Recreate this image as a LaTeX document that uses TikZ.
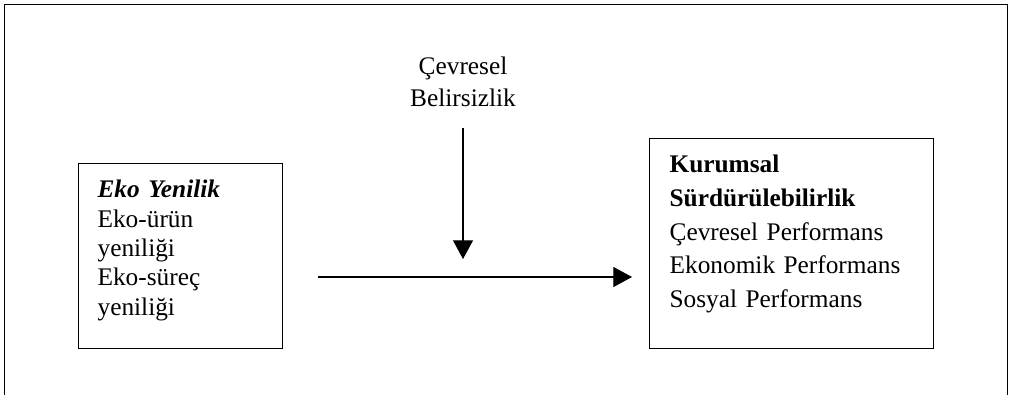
\documentclass[tikz,border=0pt]{standalone}
\usepackage{fontspec}
\setmainfont{Liberation Serif}
\usepackage{tikz}
\usetikzlibrary{arrows.meta,positioning,calc}

\begin{document}
\begin{tikzpicture}[
  x=0.75pt, y=-0.75pt,
  >={Triangle[length=14pt,width=15pt]},
  box/.style={draw, line width=0.9pt, anchor=north west, align=left,
              inner ysep=0pt, text height=25.5pt,
              font=\fontsize{19}{22.1}\selectfont},
  label/.style={align=center, inner sep=0pt,
                font=\fontsize{19}{24}\selectfont},
  flow/.style={->, line width=0.8pt}
]
  \useasboundingbox (0,0) rectangle (1010,395);
  %% Open frame round the figure
  \draw[line width=0.7pt] (4,395) -- (4,4) -- (1007,4) -- (1007,395);
  %% Boxes
  \node[box, text width=124.5pt, inner xsep=14.25pt, text depth=113.25pt] (eko) at (78,163)
    {\textbf{\textit{Eko Yenilik}}\\Eko-ürün\\yeniliği\\Eko-süreç\\yeniliği};
  \node[box, text width=183pt, inner xsep=15pt, text depth=132pt,
        font=\fontsize{19}{25.3}\selectfont] (kurumsal) at (649,138)
    {\textbf{Kurumsal}\\\textbf{Sürdürülebilirlik}\\Çevresel Performans\\Ekonomik Performans\\Sosyal Performans};
  %% Moderator
  \node[label, anchor=base] (cevre) at (463,107) {Çevresel\\Belirsizlik};
  \coordinate (hline) at (0,277);
  %% Arrows
  \draw[flow, shorten <=26.25pt, shorten >=12.75pt]
    (eko.east |- hline) -- (kurumsal.west |- hline);
  \draw[flow, shorten <=15pt, shorten >=13.5pt]
    (cevre.south) -- (cevre.south |- hline);
\end{tikzpicture}
\end{document}
